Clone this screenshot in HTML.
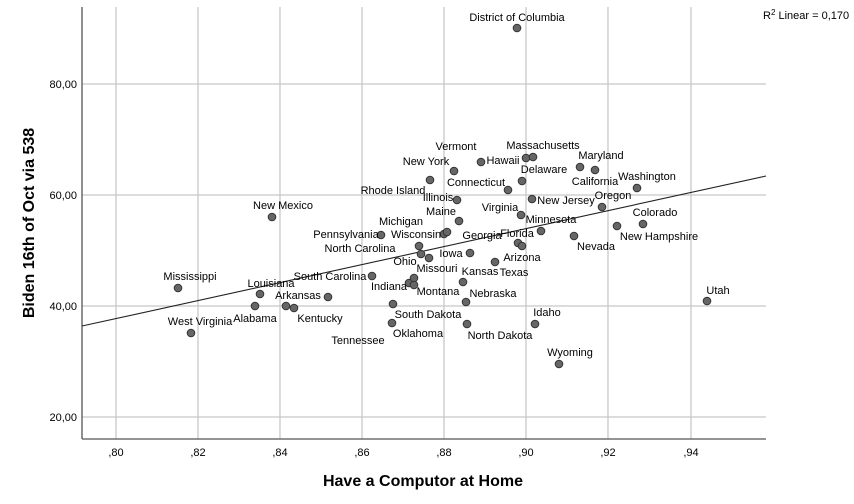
<!DOCTYPE html>
<html><head><meta charset="utf-8"><style>
html,body{margin:0;padding:0;background:#fff;}
svg{display:block;font-family:"Liberation Sans",Arial,sans-serif;}
.l{font-size:11px;fill:#000;text-anchor:middle;}
.t{font-size:11px;fill:#000;}
</style></head><body>
<svg width="854" height="504" viewBox="0 0 854 504" xmlns="http://www.w3.org/2000/svg">
<rect width="854" height="504" fill="#fff"/>
<g stroke="#c8c8c8" stroke-width="1.3">
<line x1="116" y1="7" x2="116" y2="439"/>
<line x1="198" y1="7" x2="198" y2="439"/>
<line x1="280" y1="7" x2="280" y2="439"/>
<line x1="362" y1="7" x2="362" y2="439"/>
<line x1="444" y1="7" x2="444" y2="439"/>
<line x1="526" y1="7" x2="526" y2="439"/>
<line x1="608" y1="7" x2="608" y2="439"/>
<line x1="691" y1="7" x2="691" y2="439"/>
<line x1="82" y1="84" x2="766" y2="84"/>
<line x1="82" y1="195" x2="766" y2="195"/>
<line x1="82" y1="306" x2="766" y2="306"/>
<line x1="82" y1="417" x2="766" y2="417"/>
</g>
<g stroke="#555" stroke-width="1.3">
<line x1="82" y1="7" x2="82" y2="439"/>
<line x1="82" y1="439" x2="766" y2="439"/>
</g>
<line x1="82" y1="326" x2="766" y2="176" stroke="#222" stroke-width="1.1"/>
<g class="t" text-anchor="end">
<text x="77" y="88">80,00</text>
<text x="77" y="199">60,00</text>
<text x="77" y="310">40,00</text>
<text x="77" y="421">20,00</text>
</g>
<g class="l">
<text x="116" y="456">,80</text><text x="198" y="456">,82</text><text x="280" y="456">,84</text><text x="362" y="456">,86</text>
<text x="444" y="456">,88</text><text x="526" y="456">,90</text><text x="608" y="456">,92</text><text x="691" y="456">,94</text>
</g>
<text x="423" y="486" text-anchor="middle" font-size="16" font-weight="bold">Have a Computor at Home</text>
<text transform="translate(34,223) rotate(-90)" text-anchor="middle" font-size="16" font-weight="bold">Biden 16th of Oct via 538</text>
<text x="763" y="19" class="t">R<tspan font-size="8" dy="-4">2</tspan><tspan dy="4"> Linear = 0,170</tspan></text>
<g fill="#666" stroke="#333" stroke-width="1">
<circle cx="517" cy="28" r="3.8"/><circle cx="272" cy="217" r="3.8"/><circle cx="260" cy="294" r="3.8"/>
<circle cx="255" cy="306" r="3.8"/><circle cx="286" cy="306" r="3.8"/><circle cx="294" cy="308" r="3.8"/>
<circle cx="328" cy="297" r="3.8"/><circle cx="372" cy="276" r="3.8"/><circle cx="381" cy="235" r="3.8"/>
<circle cx="444" cy="234" r="3.8"/><circle cx="447" cy="232" r="3.8"/><circle cx="419" cy="246" r="3.8"/>
<circle cx="421" cy="254" r="3.8"/><circle cx="429" cy="258" r="3.8"/><circle cx="470" cy="253" r="3.8"/>
<circle cx="409" cy="283" r="3.8"/><circle cx="414" cy="278" r="3.8"/><circle cx="414" cy="285" r="3.8"/>
<circle cx="463" cy="282" r="3.8"/><circle cx="466" cy="302" r="3.8"/><circle cx="393" cy="304" r="3.8"/>
<circle cx="392" cy="323" r="3.8"/><circle cx="467" cy="324" r="3.8"/><circle cx="535" cy="324" r="3.8"/>
<circle cx="495" cy="262" r="3.8"/><circle cx="459" cy="221" r="3.8"/><circle cx="457" cy="200" r="3.8"/>
<circle cx="430" cy="180" r="3.8"/><circle cx="454" cy="171" r="3.8"/><circle cx="481" cy="162" r="3.8"/>
<circle cx="508" cy="190" r="3.8"/><circle cx="526" cy="158" r="3.8"/><circle cx="533" cy="157" r="3.8"/>
<circle cx="522" cy="181" r="3.8"/><circle cx="580" cy="167" r="3.8"/><circle cx="595" cy="170" r="3.8"/>
<circle cx="637" cy="188" r="3.8"/><circle cx="532" cy="199" r="3.8"/><circle cx="602" cy="207" r="3.8"/>
<circle cx="521" cy="215" r="3.8"/><circle cx="541" cy="231" r="3.8"/><circle cx="574" cy="236" r="3.8"/>
<circle cx="643" cy="224" r="3.8"/><circle cx="617" cy="226" r="3.8"/><circle cx="518" cy="243" r="3.8"/>
<circle cx="522" cy="246" r="3.8"/><circle cx="707" cy="301" r="3.8"/><circle cx="559" cy="364" r="3.8"/>
<circle cx="178" cy="288" r="3.8"/><circle cx="191" cy="333" r="3.8"/>
</g>
<g class="l">
<text x="517" y="21">District of Columbia</text>
<text x="456" y="150">Vermont</text>
<text x="543" y="149">Massachusetts</text>
<text x="503" y="164">Hawaii</text>
<text x="426" y="165">New York</text>
<text x="601" y="159">Maryland</text>
<text x="544" y="173">Delaware</text>
<text x="476" y="186">Connecticut</text>
<text x="595" y="185">California</text>
<text x="647" y="180">Washington</text>
<text x="393" y="194">Rhode Island</text>
<text x="438" y="201">Illinois</text>
<text x="566" y="204">New Jersey</text>
<text x="613" y="199">Oregon</text>
<text x="500" y="211">Virginia</text>
<text x="283" y="209">New Mexico</text>
<text x="655" y="216">Colorado</text>
<text x="441" y="215">Maine</text>
<text x="551" y="223">Minnesota</text>
<text x="401" y="225">Michigan</text>
<text x="659" y="240">New Hampshire</text>
<text x="346" y="238">Pennsylvania</text>
<text x="416" y="238">Wisconsin</text>
<text x="482" y="239">Georgia</text>
<text x="517" y="237">Florida</text>
<text x="360" y="252">North Carolina</text>
<text x="596" y="250">Nevada</text>
<text x="451" y="257">Iowa</text>
<text x="522" y="261">Arizona</text>
<text x="405" y="265">Ohio</text>
<text x="437" y="272">Missouri</text>
<text x="480" y="275">Kansas</text>
<text x="514" y="276">Texas</text>
<text x="330" y="280">South Carolina</text>
<text x="190" y="280">Mississippi</text>
<text x="271" y="287">Louisiana</text>
<text x="389" y="290">Indiana</text>
<text x="438" y="295">Montana</text>
<text x="493" y="297">Nebraska</text>
<text x="298" y="299">Arkansas</text>
<text x="718" y="294">Utah</text>
<text x="255" y="322">Alabama</text>
<text x="320" y="322">Kentucky</text>
<text x="428" y="318">South Dakota</text>
<text x="547" y="316">Idaho</text>
<text x="200" y="325">West Virginia</text>
<text x="418" y="337">Oklahoma</text>
<text x="500" y="339">North Dakota</text>
<text x="358" y="344">Tennessee</text>
<text x="570" y="356">Wyoming</text>
</g>
</svg>
</body></html>
